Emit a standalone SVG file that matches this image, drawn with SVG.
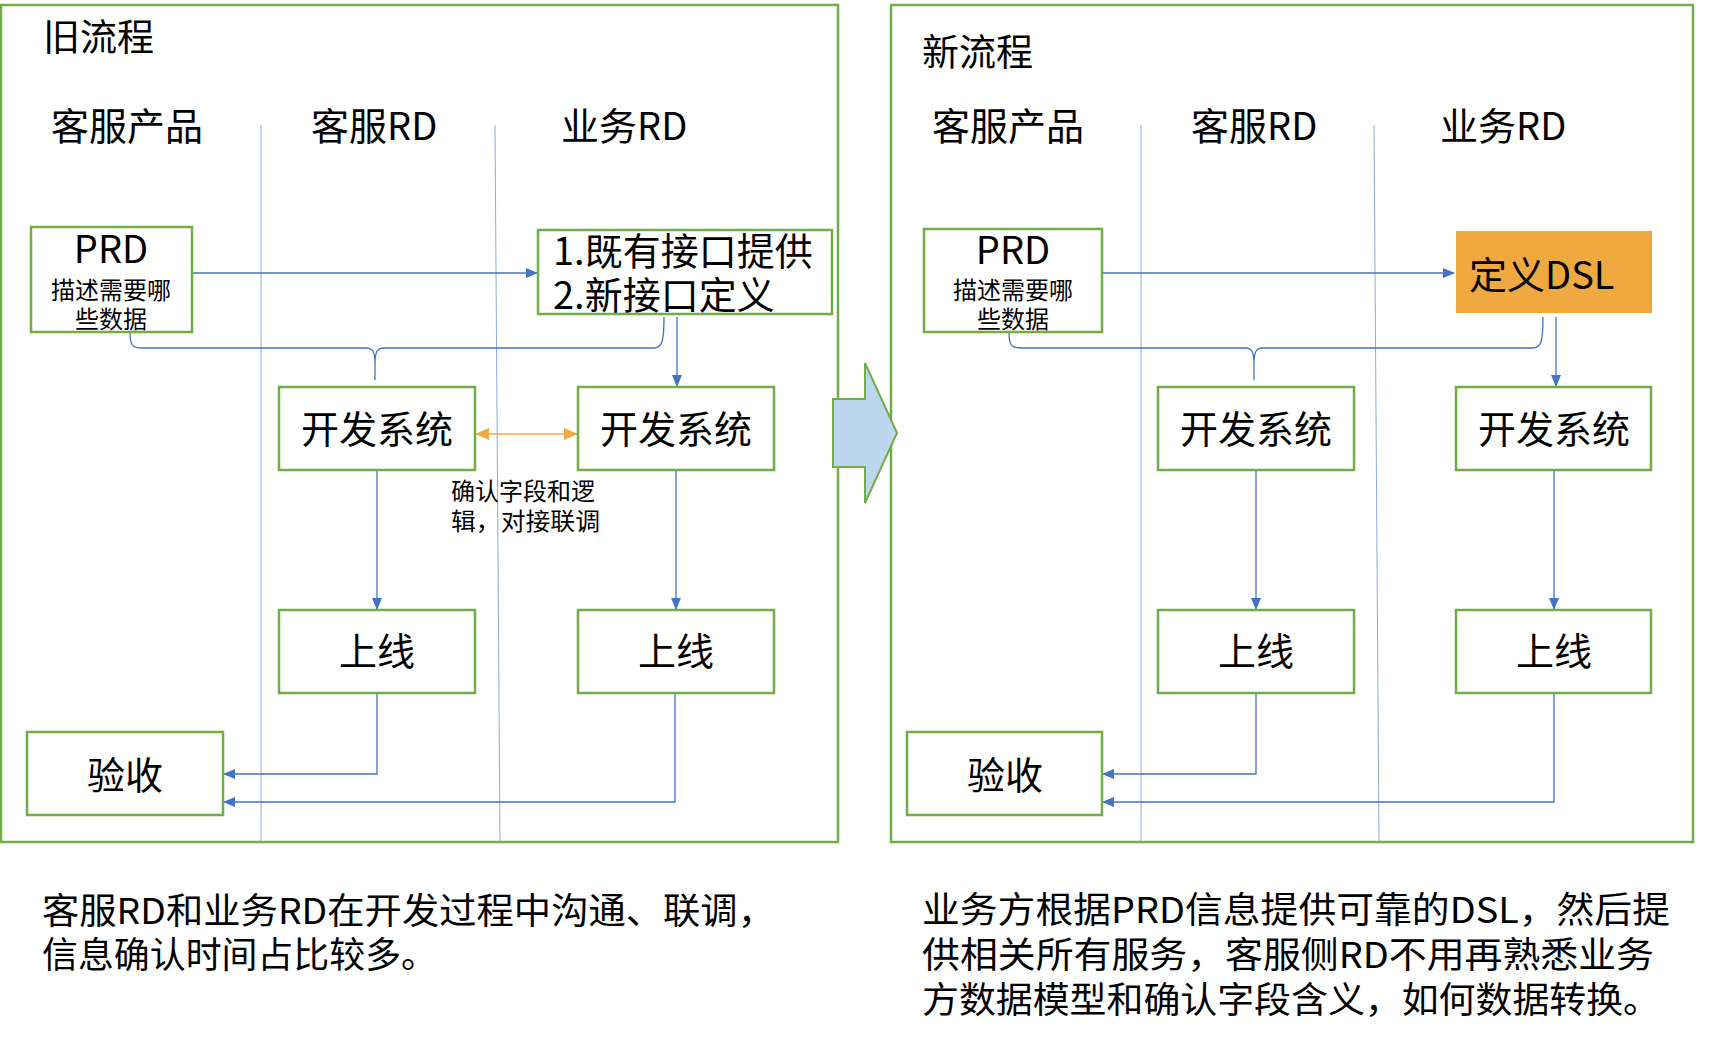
<svg xmlns="http://www.w3.org/2000/svg" width="1712" height="1043" viewBox="0 0 1712 1043">
<style>
text{font-family:"Noto Sans CJK SC","Noto Sans",sans-serif;fill:#000}
.frame{fill:none;stroke:#70AD47;stroke-width:2.5}
.box{fill:#fff;stroke:#70AD47;stroke-width:2.5}
.lane{stroke:#8EAADB;stroke-width:1;fill:none}
.conn{stroke:#4472C4;stroke-width:1.3;fill:none}
.big{font-size:38px}
.mid{font-size:24px}
.c{text-anchor:middle}
.note{font-size:36px}
</style>
<defs>
<marker id="ab" markerWidth="12" markerHeight="10" refX="11" refY="5" orient="auto" markerUnits="userSpaceOnUse">
<path d="M0,0 L12,5 L0,10 Z" fill="#4472C4"/>
</marker>
<marker id="ao" markerWidth="14" markerHeight="12" refX="13" refY="6" orient="auto-start-reverse" markerUnits="userSpaceOnUse">
<path d="M0,0 L14,6 L0,12 Z" fill="#F0AB45"/>
</marker>
</defs>

<g id="frames">
<rect class="frame" x="1" y="5" width="837" height="837"/>
<rect class="frame" x="891" y="5" width="802" height="837"/>
</g>

<g id="lanes">
<line class="lane" x1="261" y1="125" x2="261" y2="842"/>
<line class="lane" x1="495" y1="125" x2="500" y2="842"/>
<line class="lane" x1="1141" y1="125" x2="1141" y2="842"/>
<line class="lane" x1="1374" y1="125" x2="1379" y2="842"/>
</g>

<g id="titles">
<text x="43" y="51" style="font-size:37px">旧流程</text>
<text x="922" y="66" style="font-size:37px">新流程</text>
<text class="big" x="51" y="140">客服产品</text>
<text class="big" x="311" y="140">客服RD</text>
<text class="big" x="561" y="140">业务RD</text>
<text class="big" x="932" y="140">客服产品</text>
<text class="big" x="1191" y="140">客服RD</text>
<text class="big" x="1440" y="140">业务RD</text>
</g>

<g id="connectors">
<line class="conn" x1="192" y1="273" x2="537" y2="273" marker-end="url(#ab)"/>
<path class="conn" d="M130,332 C130,345 132,348 142,348 L366,348 C373,348 375,352 375,364 L375,380 M375,364 C375,352 377,348 384,348 L653,348 C662,348 664,343 664,317"/>
<line class="conn" x1="677" y1="317" x2="677" y2="386" marker-end="url(#ab)"/>
<line class="conn" x1="377" y1="470" x2="377" y2="609" marker-end="url(#ab)"/>
<line class="conn" x1="676" y1="470" x2="676" y2="609" marker-end="url(#ab)"/>
<polyline class="conn" points="377,693 377,774 224,774" marker-end="url(#ab)"/>
<polyline class="conn" points="675,693 675,802 224,802" marker-end="url(#ab)"/>
<line x1="476" y1="434" x2="577" y2="434" stroke="#F0AB45" stroke-width="1.5" marker-start="url(#ao)" marker-end="url(#ao)"/>

<line class="conn" x1="1102" y1="273" x2="1454" y2="273" marker-end="url(#ab)"/>
<path class="conn" d="M1009,332 C1009,345 1011,348 1021,348 L1245,348 C1252,348 1254,352 1254,364 L1254,380 M1254,364 C1254,352 1256,348 1263,348 L1532,348 C1541,348 1543,343 1543,317"/>
<line class="conn" x1="1556" y1="317" x2="1556" y2="386" marker-end="url(#ab)"/>
<line class="conn" x1="1256" y1="470" x2="1256" y2="609" marker-end="url(#ab)"/>
<line class="conn" x1="1554" y1="470" x2="1554" y2="609" marker-end="url(#ab)"/>
<polyline class="conn" points="1256,693 1256,774 1103,774" marker-end="url(#ab)"/>
<polyline class="conn" points="1554,693 1554,802 1103,802" marker-end="url(#ab)"/>
</g>

<g id="old-prd">
<rect class="box" x="31" y="227" width="161" height="105"/>
<text class="c" x="111" y="263" style="font-size:38px">PRD</text>
<text class="c mid" x="111" y="299">描述需要哪</text>
<text class="c mid" x="111" y="328">些数据</text>
</g>
<g id="old-api">
<rect class="box" x="538" y="230" width="294" height="84"/>
<text class="big" x="553" y="265">1.既有接口提供</text>
<text class="big" x="553" y="309">2.新接口定义</text>
</g>
<g id="old-dev1">
<rect class="box" x="279" y="387" width="196" height="83"/>
<text class="big c" x="377" y="443">开发系统</text>
</g>
<g id="old-dev2">
<rect class="box" x="578" y="387" width="196" height="83"/>
<text class="big c" x="676" y="443">开发系统</text>
</g>
<g id="old-label">
<text class="mid" x="451" y="500">确认字段和逻</text>
<text class="mid" x="451" y="530" textLength="149" lengthAdjust="spacingAndGlyphs">辑，对接联调</text>
</g>
<g id="old-online1">
<rect class="box" x="279" y="610" width="196" height="83"/>
<text class="big c" x="377" y="665">上线</text>
</g>
<g id="old-online2">
<rect class="box" x="578" y="610" width="196" height="83"/>
<text class="big c" x="676" y="665">上线</text>
</g>
<g id="old-accept">
<rect class="box" x="27" y="732" width="196" height="83"/>
<text class="big c" x="125" y="789">验收</text>
</g>

<g id="new-prd">
<rect class="box" x="924" y="229" width="178" height="103"/>
<text class="c" x="1013" y="264" style="font-size:38px">PRD</text>
<text class="c mid" x="1013" y="299">描述需要哪</text>
<text class="c mid" x="1013" y="328">些数据</text>
</g>
<g id="new-dsl">
<rect x="1456" y="231" width="196" height="82" fill="#F0A941"/>
<text class="big" x="1469" y="289">定义DSL</text>
</g>
<g id="new-dev1">
<rect class="box" x="1158" y="387" width="196" height="83"/>
<text class="big c" x="1256" y="443">开发系统</text>
</g>
<g id="new-dev2">
<rect class="box" x="1456" y="387" width="195" height="83"/>
<text class="big c" x="1554" y="443">开发系统</text>
</g>
<g id="new-online1">
<rect class="box" x="1158" y="610" width="196" height="83"/>
<text class="big c" x="1256" y="665">上线</text>
</g>
<g id="new-online2">
<rect class="box" x="1456" y="610" width="195" height="83"/>
<text class="big c" x="1554" y="665">上线</text>
</g>
<g id="new-accept">
<rect class="box" x="907" y="732" width="195" height="83"/>
<text class="big c" x="1005" y="789">验收</text>
</g>

<g id="big-arrow">
<path d="M833,399 L865,399 L865,363 L897,433 L865,503 L865,467 L833,467 Z" fill="#BDD7EE" stroke="#70AD47" stroke-width="2"/>
</g>

<g id="notes">
<text class="note" x="42" y="924" textLength="733" lengthAdjust="spacingAndGlyphs">客服RD和业务RD在开发过程中沟通、联调，</text>
<text class="note" x="42" y="968" textLength="395" lengthAdjust="spacingAndGlyphs">信息确认时间占比较多。</text>
<text class="note" x="922" y="923" textLength="748" lengthAdjust="spacingAndGlyphs">业务方根据PRD信息提供可靠的DSL，然后提</text>
<text class="note" x="922" y="968" textLength="732" lengthAdjust="spacingAndGlyphs">供相关所有服务，客服侧RD不用再熟悉业务</text>
<text class="note" x="922" y="1013" textLength="738" lengthAdjust="spacingAndGlyphs">方数据模型和确认字段含义，如何数据转换。</text>
</g>
</svg>
